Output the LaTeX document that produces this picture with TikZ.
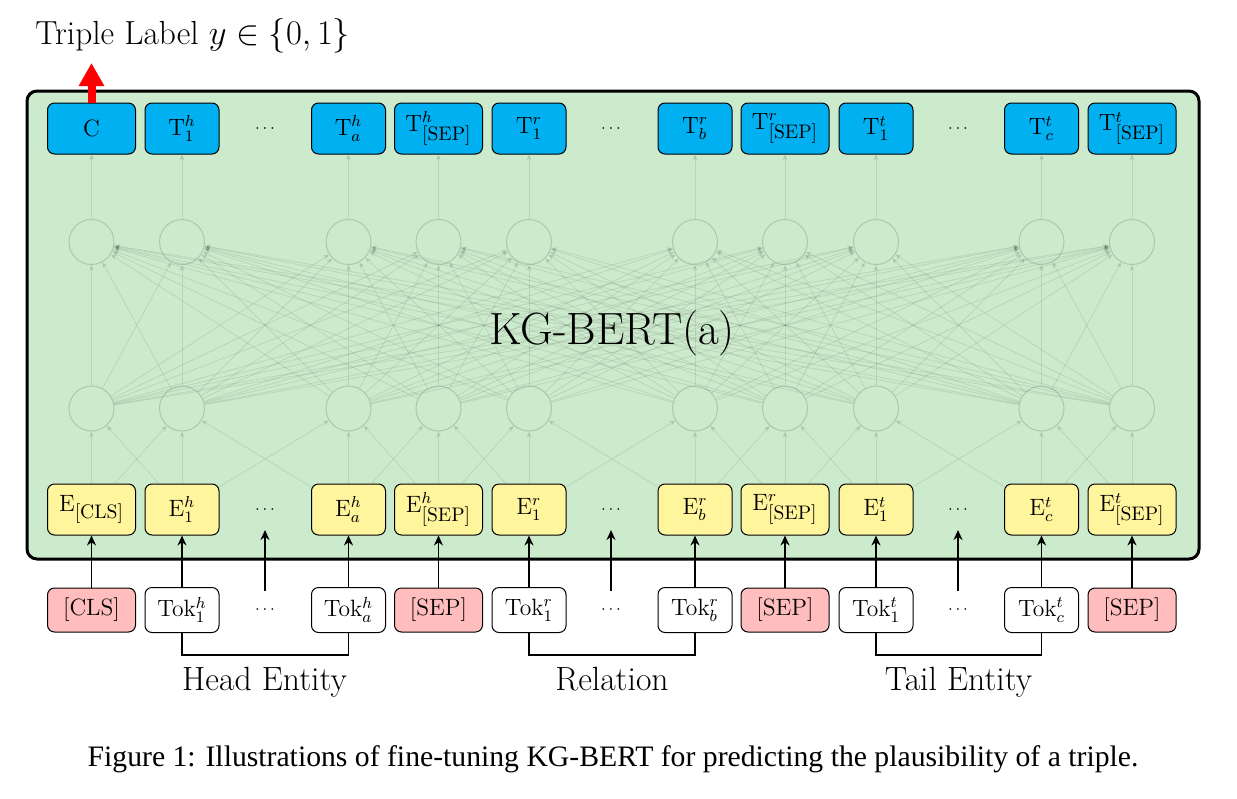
\documentclass[tikz,border=0pt]{standalone}
\usepackage{fontspec}
\newfontfamily\capfont{Liberation Serif}
\usetikzlibrary{arrows.meta}
\definecolor{bggreen}{RGB}{204,234,204}
\definecolor{tcyan}{RGB}{0,176,240}
\definecolor{eyellow}{RGB}{255,245,157}
\definecolor{tpink}{RGB}{255,189,189}
\newcommand{\mySEPs}{\mbox{\fontsize{9.8}{12}\selectfont[SEP]}}
\newcommand{\myCLSs}{\mbox{\fontsize{9.8}{12}\selectfont[CLS]}}
\begin{document}
\begin{tikzpicture}[x=0.5pt,y=-0.5pt,
  box/.style={draw=black, line width=0.5pt, rounded corners=3.5pt, minimum height=25.5pt, inner sep=1pt, font=\fontsize{11.8}{14}\selectfont},
  wide/.style={minimum width=44pt},
  narrow/.style={minimum width=37pt},
  tbox/.style={box, fill=tcyan},
  ebox/.style={box, fill=eyellow},
  tokbox/.style={box, minimum height=22.5pt, fill=white},
  specbox/.style={box, minimum height=22pt, fill=tpink},
  dotsnode/.style={inner sep=0pt, font=\fontsize{8}{10}\selectfont},
  neuron/.style={circle, draw=black, draw opacity=0.15, line width=0.5pt, minimum size=22.5pt, inner sep=0pt},
  netarrow/.style={draw=black, draw opacity=0.085, fill opacity=0.085, line width=0.4pt, -{Stealth[length=3pt,width=2.5pt]}},
  tokarrow/.style={draw=black, line width=0.9pt, -{Stealth[length=5pt,width=4.5pt]}},
  bracket/.style={draw=black, line width=0.9pt},
  biglabel/.style={inner sep=0pt, font=\fontsize{16.8}{20}\selectfont},
]
\useasboundingbox (0,0) rectangle (1237,798);

% container
\draw[line width=1.5pt, rounded corners=5pt, fill=bggreen] (27,91) rectangle (1199,559);

% neurons
\foreach \i/\x in {1/91.5,2/182,3/348.5,4/438.5,5/529,6/695,7/785,8/876,9/1041.5,10/1132}{
  \node[neuron] (U\i) at (\x,242) {};
  \node[neuron] (L\i) at (\x,408.5) {};
}

% T row
\node[tbox,wide]   (t1)  at (91.5,128.5)  {C};
\node[tbox,narrow] (t2)  at (182,128.5)   {$\mathrm{T}^h_1$};
\node[tbox,narrow] (t3)  at (348.5,128.5) {$\mathrm{T}^h_a$};
\node[tbox,wide]   (t4)  at (438.5,128.5) {$\mathrm{T}^h_{\mySEPs}$};
\node[tbox,narrow] (t5)  at (529,128.5)   {$\mathrm{T}^r_1$};
\node[tbox,narrow] (t6)  at (695,128.5)   {$\mathrm{T}^r_b$};
\node[tbox,wide]   (t7)  at (785,128.5)   {$\mathrm{T}^r_{\mySEPs}$};
\node[tbox,narrow] (t8)  at (876,128.5)   {$\mathrm{T}^t_1$};
\node[tbox,narrow] (t9)  at (1041.5,128.5){$\mathrm{T}^t_c$};
\node[tbox,wide]   (t10) at (1132,128.5)  {$\mathrm{T}^t_{\mySEPs}$};

% E row
\node[ebox,wide]   (e1)  at (91.5,509.5)  {$\mathrm{E}_{\myCLSs}$};
\node[ebox,narrow] (e2)  at (182,509.5)   {$\mathrm{E}^h_1$};
\node[ebox,narrow] (e3)  at (348.5,509.5) {$\mathrm{E}^h_a$};
\node[ebox,wide]   (e4)  at (438.5,509.5) {$\mathrm{E}^h_{\mySEPs}$};
\node[ebox,narrow] (e5)  at (529,509.5)   {$\mathrm{E}^r_1$};
\node[ebox,narrow] (e6)  at (695,509.5)   {$\mathrm{E}^r_b$};
\node[ebox,wide]   (e7)  at (785,509.5)   {$\mathrm{E}^r_{\mySEPs}$};
\node[ebox,narrow] (e8)  at (876,509.5)   {$\mathrm{E}^t_1$};
\node[ebox,narrow] (e9)  at (1041.5,509.5){$\mathrm{E}^t_c$};
\node[ebox,wide]   (e10) at (1132,509.5)  {$\mathrm{E}^t_{\mySEPs}$};

% token row
\node[specbox,wide]  (k1)  at (91.5,610)  {[CLS]};
\node[tokbox,narrow] (k2)  at (182,610)   {Tok$^h_1$};
\node[tokbox,narrow] (k3)  at (348.5,610) {Tok$^h_a$};
\node[specbox,wide]  (k4)  at (438.5,610) {[SEP]};
\node[tokbox,narrow] (k5)  at (529,610)   {Tok$^r_1$};
\node[tokbox,narrow] (k6)  at (695,610)   {Tok$^r_b$};
\node[specbox,wide]  (k7)  at (785,610)   {[SEP]};
\node[tokbox,narrow] (k8)  at (876,610)   {Tok$^t_1$};
\node[tokbox,narrow] (k9)  at (1041.5,610){Tok$^t_c$};
\node[specbox,wide]  (k10) at (1132,610)  {[SEP]};

% dots
\foreach \n/\x in {a/265,b/611,c/958}{
  \node[dotsnode] (dt\n) at (\x,128.5) {$\cdots$};
  \node[dotsnode] (de\n) at (\x,509.5) {$\cdots$};
  \node[dotsnode] (dk\n) at (\x,610) {$\cdots$};
  \coordinate (ds\n) at (\x,591);
  \coordinate (dd\n) at (\x,530);
  \draw[tokarrow] (ds\n) -- (dd\n);
}

% network edges
\foreach \i in {1,...,10}{
  \draw[netarrow] (U\i) -- (t\i);
  \foreach \j in {1,...,10}{
    \draw[netarrow] (L\i) -- (U\j);
  }
}
\foreach \i/\j in {1/1,1/2,2/1,2/2,2/3,3/2,3/3,3/4,4/3,4/4,4/5,5/4,5/5,5/6,6/5,6/6,6/7,7/6,7/7,7/8,8/7,8/8,8/9,9/8,9/9,9/10,10/9,10/10}{
  \draw[netarrow] (e\i) -- (L\j);
}

% token arrows
\foreach \i in {1,...,10}{
  \draw[tokarrow] (k\i) -- (e\i);
}

% brackets
\draw[bracket] (k2.south) -- ++(0,22) -| (k3.south);
\draw[bracket] (k5.south) -- ++(0,22) -| (k6.south);
\draw[bracket] (k8.south) -- ++(0,22) -| (k9.south);

\node[biglabel, anchor=base] (hl) at (264.5,690) {Head Entity};
\node[biglabel, anchor=base] (rl) at (612,690) {Relation};
\node[biglabel, anchor=base] (tl) at (958.5,690) {Tail Entity};

% title label
\node[inner sep=0pt, anchor=base west, font=\fontsize{16.7}{20}\selectfont] (lbl) at (35,44) {Triple Label $y\in\{0,1\}$};
\coordinate (tip) at (91.5,63);
\draw[red, line width=4pt, -{Triangle[length=11.5pt,width=12pt]}] (t1.north) -- (tip);

\node[inner sep=0pt, anchor=base, font=\fontsize{22.6}{26}\selectfont] (kg) at (612,344) {KG-BERT(a)};

\node[inner sep=0pt, anchor=base, font=\capfont\fontsize{14.85}{17}\selectfont] (cap) at (613,766) {Figure 1: Illustrations of fine-tuning KG-BERT for predicting the plausibility of a triple.};
\end{tikzpicture}
\end{document}
